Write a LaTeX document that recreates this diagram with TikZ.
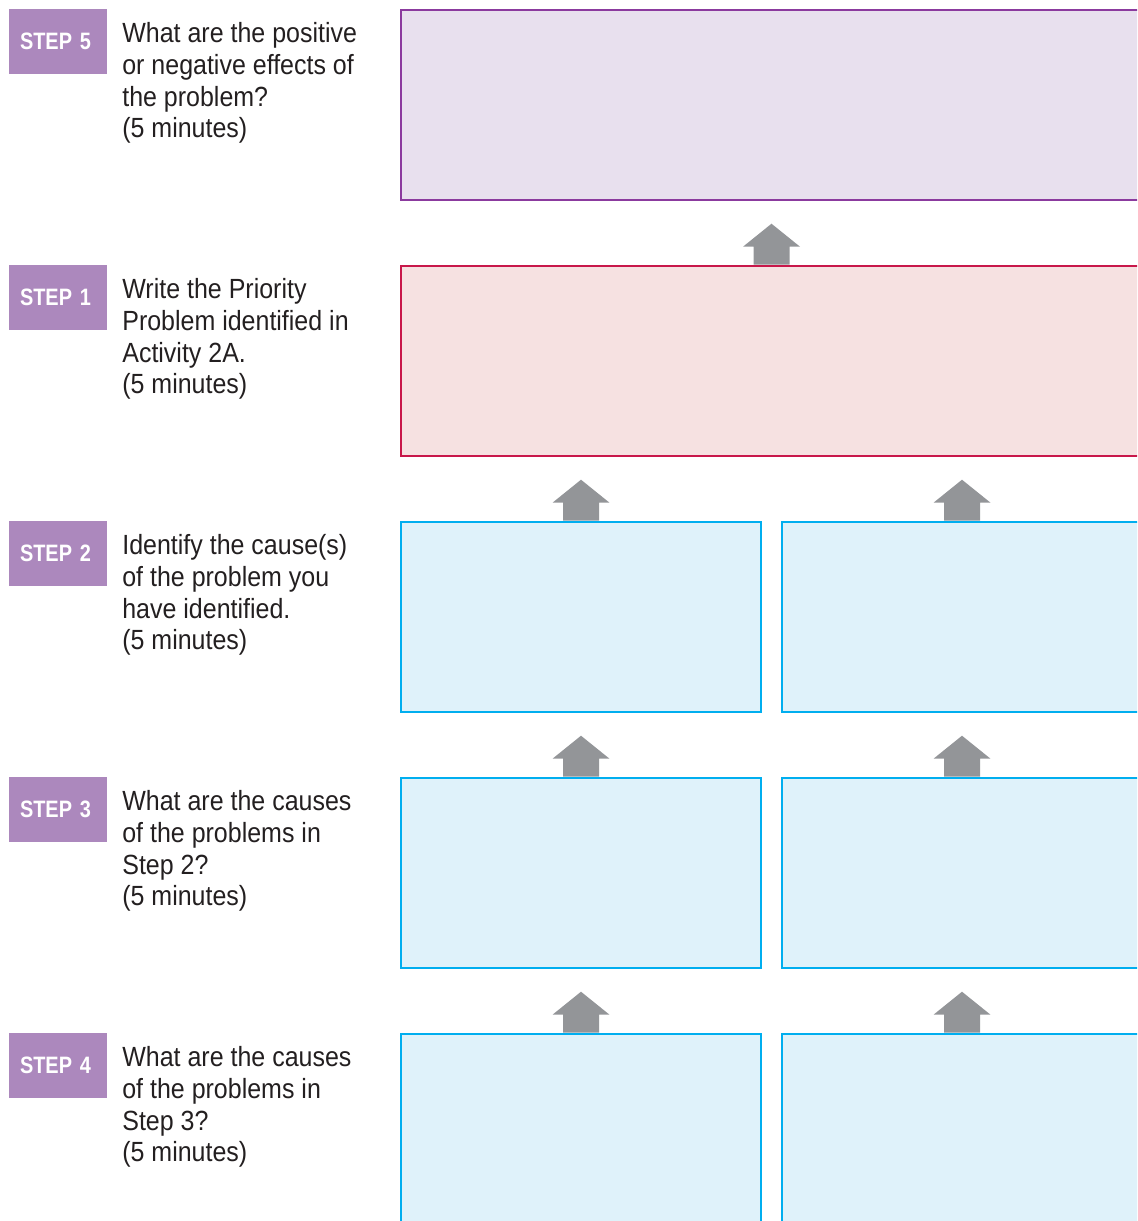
\documentclass[tikz,border=0pt]{standalone}
\usepackage{fontspec}
\setmainfont{Liberation Sans}[FakeStretch=0.9]
\newfontfamily\badgefont{Liberation Sans}[FakeStretch=0.84]
\usepackage{xcolor}
\usetikzlibrary{positioning}

\definecolor{badgepurple}{HTML}{AC88BD}
\definecolor{effectline}{HTML}{8B3A9E}
\definecolor{effectfill}{HTML}{E8E0EE}
\definecolor{problemline}{HTML}{C8174A}
\definecolor{problemfill}{HTML}{F6E1E1}
\definecolor{causeline}{HTML}{00AEEF}
\definecolor{causefill}{HTML}{DFF2FA}
\definecolor{arrowgray}{HTML}{939598}
\definecolor{bodytext}{HTML}{231F20}

\begin{document}
\begin{tikzpicture}[x=0.02cm, y=-0.02cm,
    badge/.style={fill=badgepurple, minimum width=1.96cm, minimum height=1.3cm,
      inner xsep=0.22cm, inner ysep=0pt, text width=1.52cm, align=left, text=white,
      font=\badgefont\fontsize{13.5}{16}\selectfont\bfseries},
    question/.style={anchor=north west, inner sep=0pt, align=left, text=bodytext,
      font=\fontsize{15.8}{18.1}\selectfont},
    widebox/.style={line width=1.5pt, minimum width=14.82cm, minimum height=3.8cm, inner sep=0pt},
    causebox/.style={draw=causeline, fill=causefill, line width=1.5pt,
      minimum width=7.2cm, minimum height=3.8cm, inner sep=0pt},
    uparrow/.pic={
      \fill[arrowgray] (-18,0) -- (-18,-18) -- (-28.5,-18) -- (0,-41)
        -- (28.5,-18) -- (18,-18) -- (18,0) -- cycle;
    }]
    \useasboundingbox (0,0) rectangle (1137,1221);
    \clip (0,0) rectangle (1137,1221);

    % Step 5
    \node[badge] (badge5) at (58,41.5) {STEP 5};
    \node[question] (text5) at (122,22) {What are the positive\\or negative effects of\\the problem?\\(5 minutes)};
    \node[widebox, draw=effectline, fill=effectfill] (effects) at (771.5,105) {};

    % Step 1
    \node[badge] (badge1) at (58,297.5) {STEP 1};
    \node[question] (text1) at (122,278) {Write the Priority\\Problem identified in\\Activity 2A.\\(5 minutes)};
    \node[widebox, draw=problemline, fill=problemfill] (problem) at (771.5,361) {};

    % Step 2
    \node[badge] (badge2) at (58,553.5) {STEP 2};
    \node[question] (text2) at (122,534) {Identify the cause(s)\\of the problem you\\have identified.\\(5 minutes)};
    \node[causebox] (causeA) at (581,617) {};
    \node[causebox] (causeB) at (962,617) {};

    % Step 3
    \node[badge] (badge3) at (58,809.5) {STEP 3};
    \node[question] (text3) at (122,790) {What are the causes\\of the problems in\\Step 2?\\(5 minutes)};
    \node[causebox] (rootA) at (581,873) {};
    \node[causebox] (rootB) at (962,873) {};

    % Step 4
    \node[badge] (badge4) at (58,1065.5) {STEP 4};
    \node[question] (text4) at (122,1046) {What are the causes\\of the problems in\\Step 3?\\(5 minutes)};
    \node[causebox] (deepA) at (581,1129) {};
    \node[causebox] (deepB) at (962,1129) {};

    % Arrows up
    \pic at (problem.north) {uparrow};
    \pic at (causeA.north) {uparrow};
    \pic at (causeB.north) {uparrow};
    \pic at (rootA.north) {uparrow};
    \pic at (rootB.north) {uparrow};
    \pic at (deepA.north) {uparrow};
    \pic at (deepB.north) {uparrow};
\end{tikzpicture}
\end{document}
